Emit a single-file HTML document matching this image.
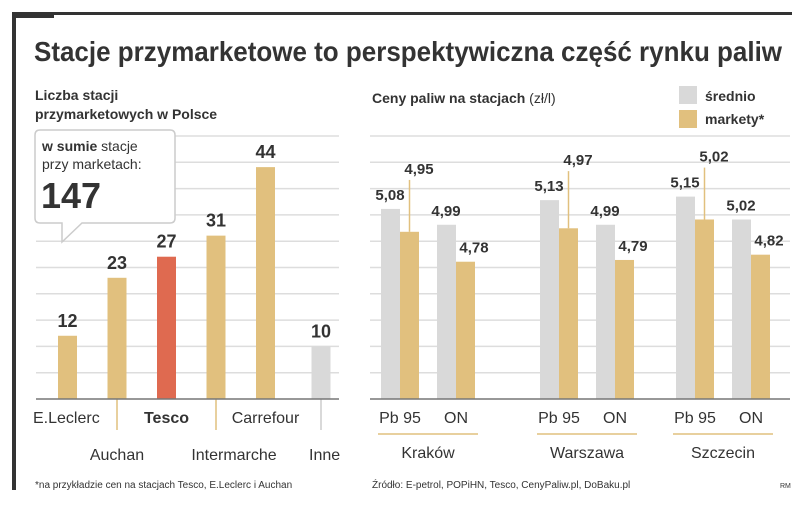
<!DOCTYPE html>
<html><head><meta charset="utf-8"><style>
body{margin:0;background:#fff;}
svg{display:block;font-family:"Liberation Sans",sans-serif;}
</style></head><body>
<svg id="c" width="805" height="505" viewBox="0 0 805 505">
<rect x="12" y="12" width="42" height="6" fill="#333"/>
<rect x="12" y="12" width="780" height="3" fill="#333"/>
<rect x="12" y="12" width="4" height="478" fill="#333"/>
<text x="34" y="61" font-size="28" font-weight="bold" fill="#333" textLength="748" lengthAdjust="spacingAndGlyphs">Stacje przymarketowe to perspektywiczna część rynku paliw</text>
<text x="35" y="100" font-size="14" font-weight="bold" fill="#333"><tspan x="35">Liczba stacji</tspan><tspan x="35" dy="19">przymarketowych w Polsce</tspan></text>
<text x="372" y="103" font-size="14" font-weight="bold" fill="#333">Ceny paliw na stacjach <tspan font-weight="normal">(zł/l)</tspan></text>
<rect x="679" y="86" width="18" height="18" fill="#d9d9d9"/>
<rect x="679" y="110" width="18" height="18" fill="#e1c07e"/>
<text x="705" y="101" font-size="14" font-weight="bold" fill="#333">średnio</text>
<text x="705" y="124" font-size="14" font-weight="bold" fill="#333">markety*</text>
<g id="left"></g><g id="right"></g>
<path d="M40,130 H170 Q175,130 175,135 V218 Q175,223 170,223 H82 L62,242 V223 H40 Q35,223 35,218 V135 Q35,130 40,130 Z" fill="#fff" stroke="#ccc" stroke-width="1.5"/>
<text x="42" y="151" font-size="14" fill="#333"><tspan font-weight="bold">w sumie</tspan> stacje<tspan x="42" dy="18">przy marketach:</tspan></text>
<text x="41" y="208" font-size="36" font-weight="bold" fill="#333">147</text>
<text x="35" y="488" font-size="10" fill="#333">*na przykładzie cen na stacjach Tesco, E.Leclerc i Auchan</text>
<text x="372" y="488" font-size="10" fill="#333">Źródło: E-petrol, POPiHN, Tesco, CenyPaliw.pl, DoBaku.pl</text>
<text x="780" y="488" font-size="7" fill="#333">RM</text>
</svg>
<script>
const stores=["E.Leclerc","Auchan","Tesco","Intermarche","Carrefour","Inne"];
const counts=[12,23,27,31,44,10];
const cities=["Kraków","Warszawa","Szczecin"];
const fuels=["Pb 95","ON"];
const avgPrices=[5.08,4.99,5.13,4.99,5.15,5.02];
const marketPrices=[4.95,4.78,4.97,4.79,5.02,4.82];
const NS="http://www.w3.org/2000/svg";
function mk(p,t,a,txt){const e=document.createElementNS(NS,t);for(const k in a)e.setAttribute(k,a[k]);if(txt!==undefined)e.textContent=txt;p.appendChild(e);return e;}
const L=document.getElementById('left'),R=document.getElementById('right');
const base=399;
for(let i=1;i<=10;i++){const y=base-i*26.3;if(y<130)break;
const g=mk(L,'line',{x1:36,x2:339,y1:y,y2:y,stroke:'#ddd','stroke-width':1.5});

}
const ly=v=>base-v*5.27;
const lx=i=>58+i*49.5+(i==5?6:0);
const colors=["#e1c07e","#e1c07e","#df6a50","#e1c07e","#e1c07e","#d9d9d9"];
stores.forEach((s,i)=>{
 const x=lx(i);
 const r=mk(L,'rect',{x:x,y:ly(counts[i]),width:19,height:base-ly(counts[i]),fill:colors[i]});
 
 
 const t=mk(L,'text',{x:x+9.5,y:ly(counts[i])-9,'font-size':18,'font-weight':'bold','text-anchor':'middle',fill:'#333'},counts[i]);
 
 
 const low=i%2==1;
 if(low){const ln=mk(L,'line',{x1:x+9.5,x2:x+9.5,y1:base,y2:430,stroke:i==5?'#ccc':'#e1c07e','stroke-width':1.5});
 
 }
 const tx=i==0?33:(i==5?309:x+9.5+(i==3?18:0)+(i==1?0:0));
 const lb=mk(L,'text',{x:tx,y:low?460:423,'font-size':16,'text-anchor':(i==0||i==5)?'start':'middle',fill:'#333','font-weight':i==2?'bold':'normal'},s);
 
 
});
const bl=mk(L,'line',{x1:36,x2:339,y1:base,y2:base,stroke:'#777','stroke-width':1.5});


for(let i=1;i<=10;i++){const y=base-i*26.3;if(y<130)break;
const g=mk(R,'line',{x1:370,x2:790,y1:y,y2:y,stroke:'#ddd','stroke-width':1.5});

}
const ry=v=>base-(v-4)*176;
const groupX=[381,540,676];
avgPrices.forEach((v,k)=>{
 const c=Math.floor(k/2),f=k%2;
 const x=groupX[c]+f*56;
 const r1=mk(R,'rect',{x:x,y:ry(v),width:19,height:base-ry(v),fill:'#d9d9d9'});
 
 
 const m=marketPrices[k];
 const r2=mk(R,'rect',{x:x+19,y:ry(m),width:19,height:base-ry(m),fill:'#e1c07e'});
 
 
 const t1=mk(R,'text',{x:x+9,y:ry(v)-9,'font-size':15,'font-weight':'bold','text-anchor':'middle',fill:'#333'},v.toFixed(2).replace('.',','));
 
 
 let my=ry(m)-9;
 if(f==0){my=ry(avgPrices[k])-35;
  const ln=mk(R,'line',{x1:x+28.5,x2:x+28.5,y1:my+6,y2:ry(m),stroke:'#e1c07e','stroke-width':1.5});
  
  }
 const t2=mk(R,'text',{x:x+(f==0?38:37),y:my,'font-size':15,'font-weight':'bold','text-anchor':'middle',fill:'#333'},m.toFixed(2).replace('.',','));
 
 
 const fl=mk(R,'text',{x:x+19,y:423,'font-size':16,'text-anchor':'middle',fill:'#333'},fuels[f]);
 
 
});
cities.forEach((c,i)=>{
 const cx=groupX[i]+47;
 const ln=mk(R,'line',{x1:cx-50,x2:cx+50,y1:434,y2:434,stroke:'#e1c07e','stroke-width':1.5});
 
 
 const t=mk(R,'text',{x:cx,y:458,'font-size':16,'text-anchor':'middle',fill:'#333'},c);
 
 
});
const br=mk(R,'line',{x1:370,x2:790,y1:base,y2:base,stroke:'#777','stroke-width':1.5});


</script>
</body></html>
